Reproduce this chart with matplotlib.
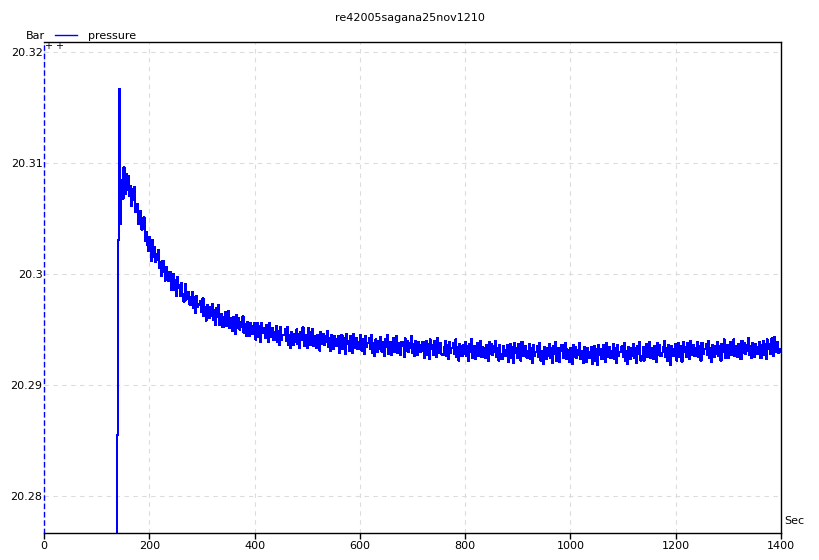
import numpy as np
import matplotlib
matplotlib.use('Agg')
import matplotlib.pyplot as plt
from matplotlib.ticker import FixedLocator, FixedFormatter

# pressure samples, one every 2 s starting at t = 137 s
t_start = 137
t_step = 2
pressure = [
    20.2700, 20.2855, 20.3031, 20.3167, 20.3045, 20.3085, 20.3068, 20.3096, 20.3072, 20.3090,
    20.3076, 20.3088, 20.3070, 20.3079, 20.3061, 20.3077, 20.3067, 20.3078, 20.3056, 20.3058,
    20.3063, 20.3045, 20.3054, 20.3057, 20.3040, 20.3041, 20.3051, 20.3030, 20.3038, 20.3026,
    20.3021, 20.3033, 20.3026, 20.3012, 20.3031, 20.3015, 20.3024, 20.3011, 20.3013, 20.3018,
    20.3022, 20.3005, 20.3011, 20.2998, 20.3012, 20.3002, 20.2994, 20.3006, 20.3002, 20.2994,
    20.2995, 20.3002, 20.2986, 20.2997, 20.3000, 20.2986, 20.2995, 20.2980, 20.2997, 20.2987,
    20.2990, 20.2980, 20.2992, 20.2982, 20.2975, 20.2991, 20.2977, 20.2981, 20.2984, 20.2973,
    20.2972, 20.2979, 20.2984, 20.2969, 20.2979, 20.2965, 20.2980, 20.2970, 20.2973, 20.2972,
    20.2976, 20.2966, 20.2978, 20.2962, 20.2970, 20.2958, 20.2972, 20.2968, 20.2960, 20.2970,
    20.2962, 20.2973, 20.2959, 20.2968, 20.2954, 20.2969, 20.2961, 20.2972, 20.2954, 20.2958,
    20.2964, 20.2952, 20.2961, 20.2966, 20.2953, 20.2956, 20.2967, 20.2951, 20.2960, 20.2953,
    20.2949, 20.2961, 20.2956, 20.2946, 20.2963, 20.2951, 20.2960, 20.2950, 20.2952, 20.2957,
    20.2962, 20.2947, 20.2955, 20.2944, 20.2957, 20.2949, 20.2944, 20.2956, 20.2953, 20.2946,
    20.2948, 20.2956, 20.2941, 20.2952, 20.2956, 20.2943, 20.2953, 20.2939, 20.2956, 20.2947,
    20.2951, 20.2942, 20.2954, 20.2945, 20.2939, 20.2956, 20.2943, 20.2947, 20.2951, 20.2941,
    20.2941, 20.2948, 20.2953, 20.2939, 20.2949, 20.2936, 20.2952, 20.2941, 20.2945, 20.2945,
    20.2950, 20.2940, 20.2952, 20.2936, 20.2945, 20.2933, 20.2948, 20.2944, 20.2936, 20.2946,
    20.2939, 20.2950, 20.2937, 20.2946, 20.2933, 20.2948, 20.2941, 20.2952, 20.2935, 20.2939,
    20.2945, 20.2933, 20.2951, 20.2948, 20.2936, 20.2939, 20.2950, 20.2935, 20.2944, 20.2937,
    20.2933, 20.2945, 20.2941, 20.2931, 20.2948, 20.2937, 20.2946, 20.2936, 20.2939, 20.2944,
    20.2949, 20.2934, 20.2942, 20.2931, 20.2945, 20.2937, 20.2932, 20.2944, 20.2941, 20.2935,
    20.2936, 20.2944, 20.2929, 20.2941, 20.2945, 20.2932, 20.2942, 20.2928, 20.2946, 20.2937,
    20.2940, 20.2931, 20.2944, 20.2935, 20.2929, 20.2946, 20.2933, 20.2938, 20.2942, 20.2932,
    20.2932, 20.2939, 20.2945, 20.2931, 20.2941, 20.2928, 20.2944, 20.2934, 20.2938, 20.2938,
    20.2942, 20.2932, 20.2945, 20.2929, 20.2938, 20.2926, 20.2941, 20.2937, 20.2930, 20.2940,
    20.2932, 20.2943, 20.2930, 20.2939, 20.2926, 20.2941, 20.2934, 20.2945, 20.2928, 20.2932,
    20.2939, 20.2927, 20.2937, 20.2942, 20.2930, 20.2933, 20.2944, 20.2929, 20.2938, 20.2931,
    20.2927, 20.2939, 20.2935, 20.2925, 20.2942, 20.2931, 20.2940, 20.2930, 20.2933, 20.2938,
    20.2944, 20.2929, 20.2937, 20.2926, 20.2940, 20.2932, 20.2927, 20.2939, 20.2936, 20.2930,
    20.2931, 20.2939, 20.2924, 20.2936, 20.2940, 20.2927, 20.2937, 20.2923, 20.2941, 20.2932,
    20.2936, 20.2927, 20.2940, 20.2931, 20.2925, 20.2942, 20.2929, 20.2934, 20.2938, 20.2928,
    20.2927, 20.2934, 20.2940, 20.2926, 20.2936, 20.2923, 20.2939, 20.2929, 20.2933, 20.2933,
    20.2938, 20.2928, 20.2941, 20.2925, 20.2934, 20.2922, 20.2937, 20.2933, 20.2926, 20.2936,
    20.2928, 20.2939, 20.2926, 20.2935, 20.2922, 20.2937, 20.2930, 20.2941, 20.2924, 20.2928,
    20.2935, 20.2923, 20.2933, 20.2938, 20.2926, 20.2929, 20.2940, 20.2925, 20.2934, 20.2927,
    20.2924, 20.2936, 20.2932, 20.2922, 20.2939, 20.2928, 20.2937, 20.2927, 20.2930, 20.2935,
    20.2940, 20.2925, 20.2933, 20.2922, 20.2936, 20.2928, 20.2923, 20.2935, 20.2932, 20.2926,
    20.2928, 20.2936, 20.2921, 20.2933, 20.2937, 20.2924, 20.2934, 20.2920, 20.2938, 20.2929,
    20.2933, 20.2924, 20.2937, 20.2928, 20.2922, 20.2939, 20.2926, 20.2931, 20.2935, 20.2925,
    20.2924, 20.2931, 20.2937, 20.2923, 20.2933, 20.2920, 20.2936, 20.2926, 20.2930, 20.2930,
    20.2935, 20.2925, 20.2938, 20.2922, 20.2931, 20.2919, 20.2934, 20.2930, 20.2923, 20.2933,
    20.2926, 20.2937, 20.2924, 20.2933, 20.2920, 20.2935, 20.2928, 20.2939, 20.2922, 20.2926,
    20.2933, 20.2921, 20.2931, 20.2936, 20.2924, 20.2927, 20.2938, 20.2923, 20.2932, 20.2925,
    20.2921, 20.2933, 20.2929, 20.2919, 20.2936, 20.2925, 20.2934, 20.2924, 20.2927, 20.2932,
    20.2938, 20.2923, 20.2931, 20.2920, 20.2934, 20.2926, 20.2921, 20.2933, 20.2930, 20.2924,
    20.2926, 20.2934, 20.2919, 20.2931, 20.2935, 20.2922, 20.2932, 20.2918, 20.2936, 20.2927,
    20.2932, 20.2923, 20.2936, 20.2927, 20.2921, 20.2938, 20.2925, 20.2930, 20.2934, 20.2924,
    20.2924, 20.2931, 20.2937, 20.2923, 20.2933, 20.2920, 20.2936, 20.2926, 20.2930, 20.2930,
    20.2935, 20.2925, 20.2938, 20.2922, 20.2931, 20.2919, 20.2934, 20.2930, 20.2923, 20.2933,
    20.2926, 20.2937, 20.2924, 20.2933, 20.2920, 20.2935, 20.2928, 20.2939, 20.2922, 20.2926,
    20.2934, 20.2922, 20.2932, 20.2937, 20.2925, 20.2928, 20.2939, 20.2924, 20.2933, 20.2926,
    20.2923, 20.2935, 20.2931, 20.2921, 20.2938, 20.2927, 20.2936, 20.2926, 20.2929, 20.2934,
    20.2940, 20.2925, 20.2933, 20.2922, 20.2936, 20.2928, 20.2918, 20.2935, 20.2932, 20.2926,
    20.2929, 20.2937, 20.2922, 20.2934, 20.2938, 20.2925, 20.2935, 20.2921, 20.2939, 20.2930,
    20.2934, 20.2925, 20.2938, 20.2929, 20.2923, 20.2940, 20.2927, 20.2932, 20.2936, 20.2926,
    20.2926, 20.2933, 20.2939, 20.2925, 20.2935, 20.2922, 20.2938, 20.2928, 20.2932, 20.2932,
    20.2937, 20.2927, 20.2940, 20.2924, 20.2933, 20.2921, 20.2936, 20.2932, 20.2925, 20.2935,
    20.2928, 20.2939, 20.2926, 20.2935, 20.2922, 20.2937, 20.2930, 20.2941, 20.2924, 20.2928,
    20.2936, 20.2924, 20.2934, 20.2939, 20.2927, 20.2930, 20.2941, 20.2926, 20.2935, 20.2928,
    20.2925, 20.2937, 20.2933, 20.2923, 20.2940, 20.2929, 20.2938, 20.2928, 20.2931, 20.2936,
    20.2942, 20.2927, 20.2935, 20.2924, 20.2938, 20.2930, 20.2925, 20.2937, 20.2934, 20.2928,
    20.2931, 20.2939, 20.2924, 20.2936, 20.2940, 20.2927, 20.2937, 20.2923, 20.2941, 20.2932,
    20.2937, 20.2928, 20.2941, 20.2942, 20.2926, 20.2943, 20.2930, 20.2935, 20.2939, 20.2929,
    20.2932, 20.2930,
]
times = t_start + t_step * np.arange(len(pressure))

x_ticks = [0, 200, 400, 600, 800, 1000, 1200, 1400]
y_ticks = [20.28, 20.29, 20.30, 20.31, 20.32]
y_labels = ['20.28', '20.29', '20.3', '20.31', '20.32']

W, H = 819, 560
fig = plt.figure(figsize=(W / 100, H / 100), dpi=100)
ax = fig.add_axes([44 / W, (H - 533) / H, (781 - 44) / W, (533 - 42) / H])

ax.plot(times, pressure, color='#0000ff', lw=0.75, drawstyle='steps-post', antialiased=False)

ax.set_xlim(0, 1400)
ax.set_ylim(20.28 - 37 / 11100, 20.32 + 10 / 11100)

ax.xaxis.set_major_locator(FixedLocator(x_ticks))
ax.yaxis.set_major_locator(FixedLocator(y_ticks))
ax.yaxis.set_major_formatter(FixedFormatter(y_labels))
ax.tick_params(axis='x', length=4, width=1, pad=2, labelsize=8)
ax.tick_params(axis='y', length=0, pad=1, labelsize=8)
ax.grid(True, color='#dcdcdc', ls=(0, (4, 4)), lw=0.8)

for side in ['top', 'right', 'bottom']:
    ax.spines[side].set_color('black')
    ax.spines[side].set_linewidth(1)
ax.spines['left'].set_color('#0000ff')
ax.spines['left'].set_linestyle((0, (3, 3)))
ax.spines['left'].set_linewidth(1)

fig.text(410 / W, 1 - 18 / H, 're42005sagana25nov1210', ha='center', va='center', fontsize=8)
fig.text(45 / W, 1 - 36 / H, 'Bar', ha='right', va='center', fontsize=8)
fig.add_artist(plt.Line2D([55 / W, 77 / W], [1 - 35 / H, 1 - 35 / H], color='#0000ff', lw=1))
fig.text(88 / W, 1 - 36 / H, 'pressure', ha='left', va='center', fontsize=8)
fig.text(784 / W, 1 - 521 / H, 'Sec', ha='left', va='center', fontsize=8)
fig.text(48 / W, 1 - 46 / H, '+', ha='center', va='center', fontsize=7)
fig.text(59 / W, 1 - 46 / H, '+', ha='center', va='center', fontsize=7)

fig.savefig('out.png', dpi=100)
